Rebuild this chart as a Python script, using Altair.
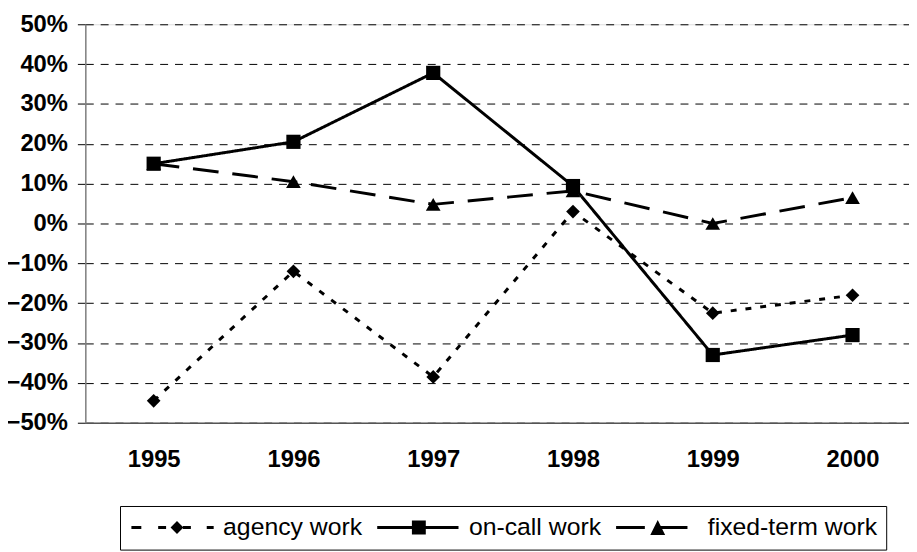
import altair as alt
import pandas as pd

years = [1995, 1996, 1997, 1998, 1999, 2000]
series_names = ["agency work", "on-call work", "fixed-term work"]
agency_work = [-0.445, -0.12, -0.385, 0.03, -0.225, -0.18]
on_call_work = [0.15, 0.205, 0.378, 0.094, -0.33, -0.28]
fixed_term_work = [0.15, 0.105, 0.048, 0.082, 0.0, 0.065]
y_ticks = [-0.5, -0.4, -0.3, -0.2, -0.1, 0.0, 0.1, 0.2, 0.3, 0.4, 0.5]

rows = []
for name, vals in zip(series_names, [agency_work, on_call_work, fixed_term_work]):
    for yr, v in zip(years, vals):
        rows.append({"year": yr, "value": v, "series": name})
df = pd.DataFrame(rows)

FONT = "Liberation Sans"

x_enc = alt.X(
    "year:Q",
    scale=alt.Scale(domain=[1994.511, 2000.404], nice=False, zero=False),
    axis=alt.Axis(values=years, format="d", title=None, grid=False, ticks=False,
                  labelFontSize=24, labelFontWeight="bold", labelFont=FONT,
                  labelColor="black", labelPadding=25, domainColor="#555555",
                  domainWidth=1.5, labelFlush=False),
)
y_enc = alt.Y(
    "value:Q",
    scale=alt.Scale(domain=[-0.5, 0.5], nice=False, zero=False),
    axis=alt.Axis(values=y_ticks, format=".0%", title=None, grid=True,
                  gridColor="black", gridDash=[8, 7], gridWidth=1,
                  tickSize=8, tickColor="black", tickWidth=1,
                  labelFontSize=24, labelFontWeight="bold", labelFont=FONT,
                  labelColor="black", labelPadding=10,
                  domainColor="#808080", domainWidth=1.5),
)

lines = alt.Chart(df).mark_line(color="black", strokeWidth=3).encode(
    x=x_enc,
    y=y_enc,
    strokeDash=alt.StrokeDash(
        "series:N",
        scale=alt.Scale(domain=series_names, range=[[6, 9], [1, 0], [26, 14]]),
        legend=None,
    ),
    order=alt.Order("year:Q"),
)

points = alt.Chart(df).mark_point(filled=True, color="black", opacity=1).encode(
    x=alt.X("year:Q"),
    y=alt.Y("value:Q"),
    shape=alt.Shape("series:N",
                    scale=alt.Scale(domain=series_names,
                                    range=["diamond", "square", "triangle-up"]),
                    legend=None),
    size=alt.Size("series:N",
                  scale=alt.Scale(domain=series_names, range=[190, 220, 240]),
                  legend=None),
)


def seg(a, b, h=0.15):
    return f"M{a},{-h}H{b}V{h}H{a}Z"


# legend glyphs (units of 10 px, drawn from x=-1 to x=7.3), all filled shapes
legend_paths = [
    seg(-1, 0) + seg(1.7, 2.5) + seg(4.2, 5.0) + seg(6.6, 7.3)
    + "M3.6,-0.65L4.25,0L3.6,0.65L2.95,0Z",
    seg(-1, 7.2) + "M2.5,-0.7H3.9V0.7H2.5Z",
    seg(-1, 1.9) + seg(3.4, 6.2) + "M2.45,0.75L3.2,-0.75L3.95,0.75Z",
]

legend_layer = alt.Chart(df).transform_filter("false").mark_point(
    filled=True, color="black", opacity=1
).encode(
    x=alt.X("year:Q"),
    y=alt.Y("value:Q"),
    shape=alt.Shape(
        "series:N",
        scale=alt.Scale(domain=series_names, range=legend_paths),
        legend=alt.Legend(
            title=None, orient="none", legendX=35, legendY=486,
            direction="horizontal", columns=3,
            symbolSize=400, symbolStrokeWidth=0,
            symbolFillColor="black",
            symbolOpacity=1,
            labelFontSize=25, labelFont=FONT, labelColor="black",
            labelOffset=70, labelLimit=400, columnPadding=12,
            padding=9, strokeColor="black", fillColor="white",
        ),
    ),
)

chart = alt.layer(lines, points, legend_layer).resolve_scale(
    shape="independent"
).properties(
    width=831,
    height=402,
    padding={"left": 78, "top": 14, "right": 0, "bottom": 128},
    autosize=alt.AutoSizeParams(type="none"),
).configure_view(stroke=None).configure(font=FONT)

chart.save("out.html", embed_options={"renderer": "svg", "actions": False})
